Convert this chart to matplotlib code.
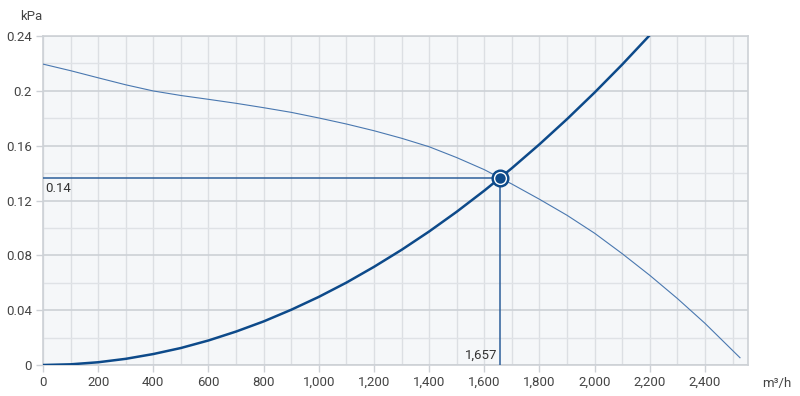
import numpy as np
import matplotlib
matplotlib.use("Agg")
import matplotlib.pyplot as plt
from matplotlib.ticker import MultipleLocator, FuncFormatter

plt.rcParams['font.family'] = ['Roboto', 'DejaVu Sans']

# fan curve (airflow m3/h, pressure kPa)
fan_flow = [0, 100, 200, 300, 400, 500, 600, 700, 800, 900, 1000, 1100, 1200,
            1300, 1400, 1500, 1600, 1657, 1700, 1800, 1900, 2000, 2100, 2200,
            2300, 2400, 2527]
fan_press = [0.2195, 0.2147, 0.2095, 0.2044, 0.1999, 0.1966, 0.1938, 0.1909,
             0.1877, 0.1843, 0.1802, 0.1758, 0.1709, 0.1654, 0.1592, 0.1513,
             0.1425, 0.1365, 0.1320, 0.1209, 0.1092, 0.0961, 0.0812, 0.0654,
             0.0485, 0.0304, 0.0053]

# system curve
sys_flow = [0, 100, 200, 300, 400, 500, 600, 700, 800, 900, 1000, 1100, 1200,
            1300, 1400, 1500, 1600, 1657, 1700, 1800, 1900, 2000, 2100, 2197]
sys_press = [0.0, 0.0005, 0.002, 0.0045, 0.008, 0.0124, 0.0179, 0.0244,
             0.0318, 0.0403, 0.0497, 0.0601, 0.0716, 0.084, 0.0974, 0.1118,
             0.1272, 0.1365, 0.1436, 0.161, 0.1794, 0.1988, 0.2192, 0.24]

# operating point
op_flow = 1657
op_press = 0.1365
op_flow_label = "1,657"
op_press_label = "0.14"

X_MAX = 2556
Y_MAX = 0.24

fig = plt.figure(figsize=(8, 3.96), dpi=100)
ax = fig.add_axes([43 / 800, 31 / 396, 705 / 800, 329 / 396])
ax.set_facecolor('#f5f7f9')

ax.set_xlim(0, X_MAX)
ax.set_ylim(0, Y_MAX)

ax.xaxis.set_major_locator(MultipleLocator(200))
ax.xaxis.set_minor_locator(MultipleLocator(100))
ax.yaxis.set_major_locator(MultipleLocator(0.04))
ax.yaxis.set_minor_locator(MultipleLocator(0.02))

ax.xaxis.set_major_formatter(FuncFormatter(lambda v, p: f"{v:,.0f}"))
ax.yaxis.set_major_formatter(FuncFormatter(lambda v, p: f"{v:.2f}".rstrip('0').rstrip('.') if v else "0"))

ax.grid(which='major', axis='y', color='#cdd1d6', lw=1.2)
ax.grid(which='minor', axis='y', color='#dfe2e6', lw=1.0)
ax.grid(which='both', axis='x', color='#dcdfe3', lw=1.0)
ax.set_axisbelow(True)

for s in ax.spines.values():
    s.set_color('#cdd1d6')
    s.set_linewidth(1.2)

ax.tick_params(which='major', length=5, width=1, color='#cdd1d6',
               labelsize=9.5, labelcolor='#444444', pad=3)
ax.tick_params(which='minor', length=0)

ax.plot(fan_flow, fan_press, color='#4a78b0', lw=0.8, zorder=3)
ax.plot(sys_flow, sys_press, color='#0d4a8a', lw=1.8, zorder=4)

ax.plot([0, op_flow], [op_press, op_press], color='#2d5f9a', lw=1.1, zorder=3)
ax.plot([op_flow, op_flow], [0, op_press], color='#2d5f9a', lw=1.1, zorder=3)

ax.plot(op_flow, op_press, 'o', ms=12, mfc='#0d4a8a', mec='#0d4a8a', zorder=5)
ax.plot(op_flow, op_press, 'o', ms=8.5, mfc='#0d4a8a', mec='white', mew=1.0, zorder=6)

ax.text(8, op_press - 0.003, op_press_label, ha='left', va='top',
        fontsize=9.5, color='#333333', zorder=6)
ax.text(op_flow - 8, 0.002, op_flow_label, ha='right', va='bottom',
        fontsize=9.5, color='#333333', zorder=6)

fig.text(20 / 800, 1 - 16 / 396, "kPa", ha='left', va='center',
         fontsize=9.5, color='#444444')
fig.text(762 / 800, 1 - 383 / 396, "m³/h", ha='left', va='center',
         fontsize=9.5, color='#444444')

fig.savefig("out.png", dpi=100)
